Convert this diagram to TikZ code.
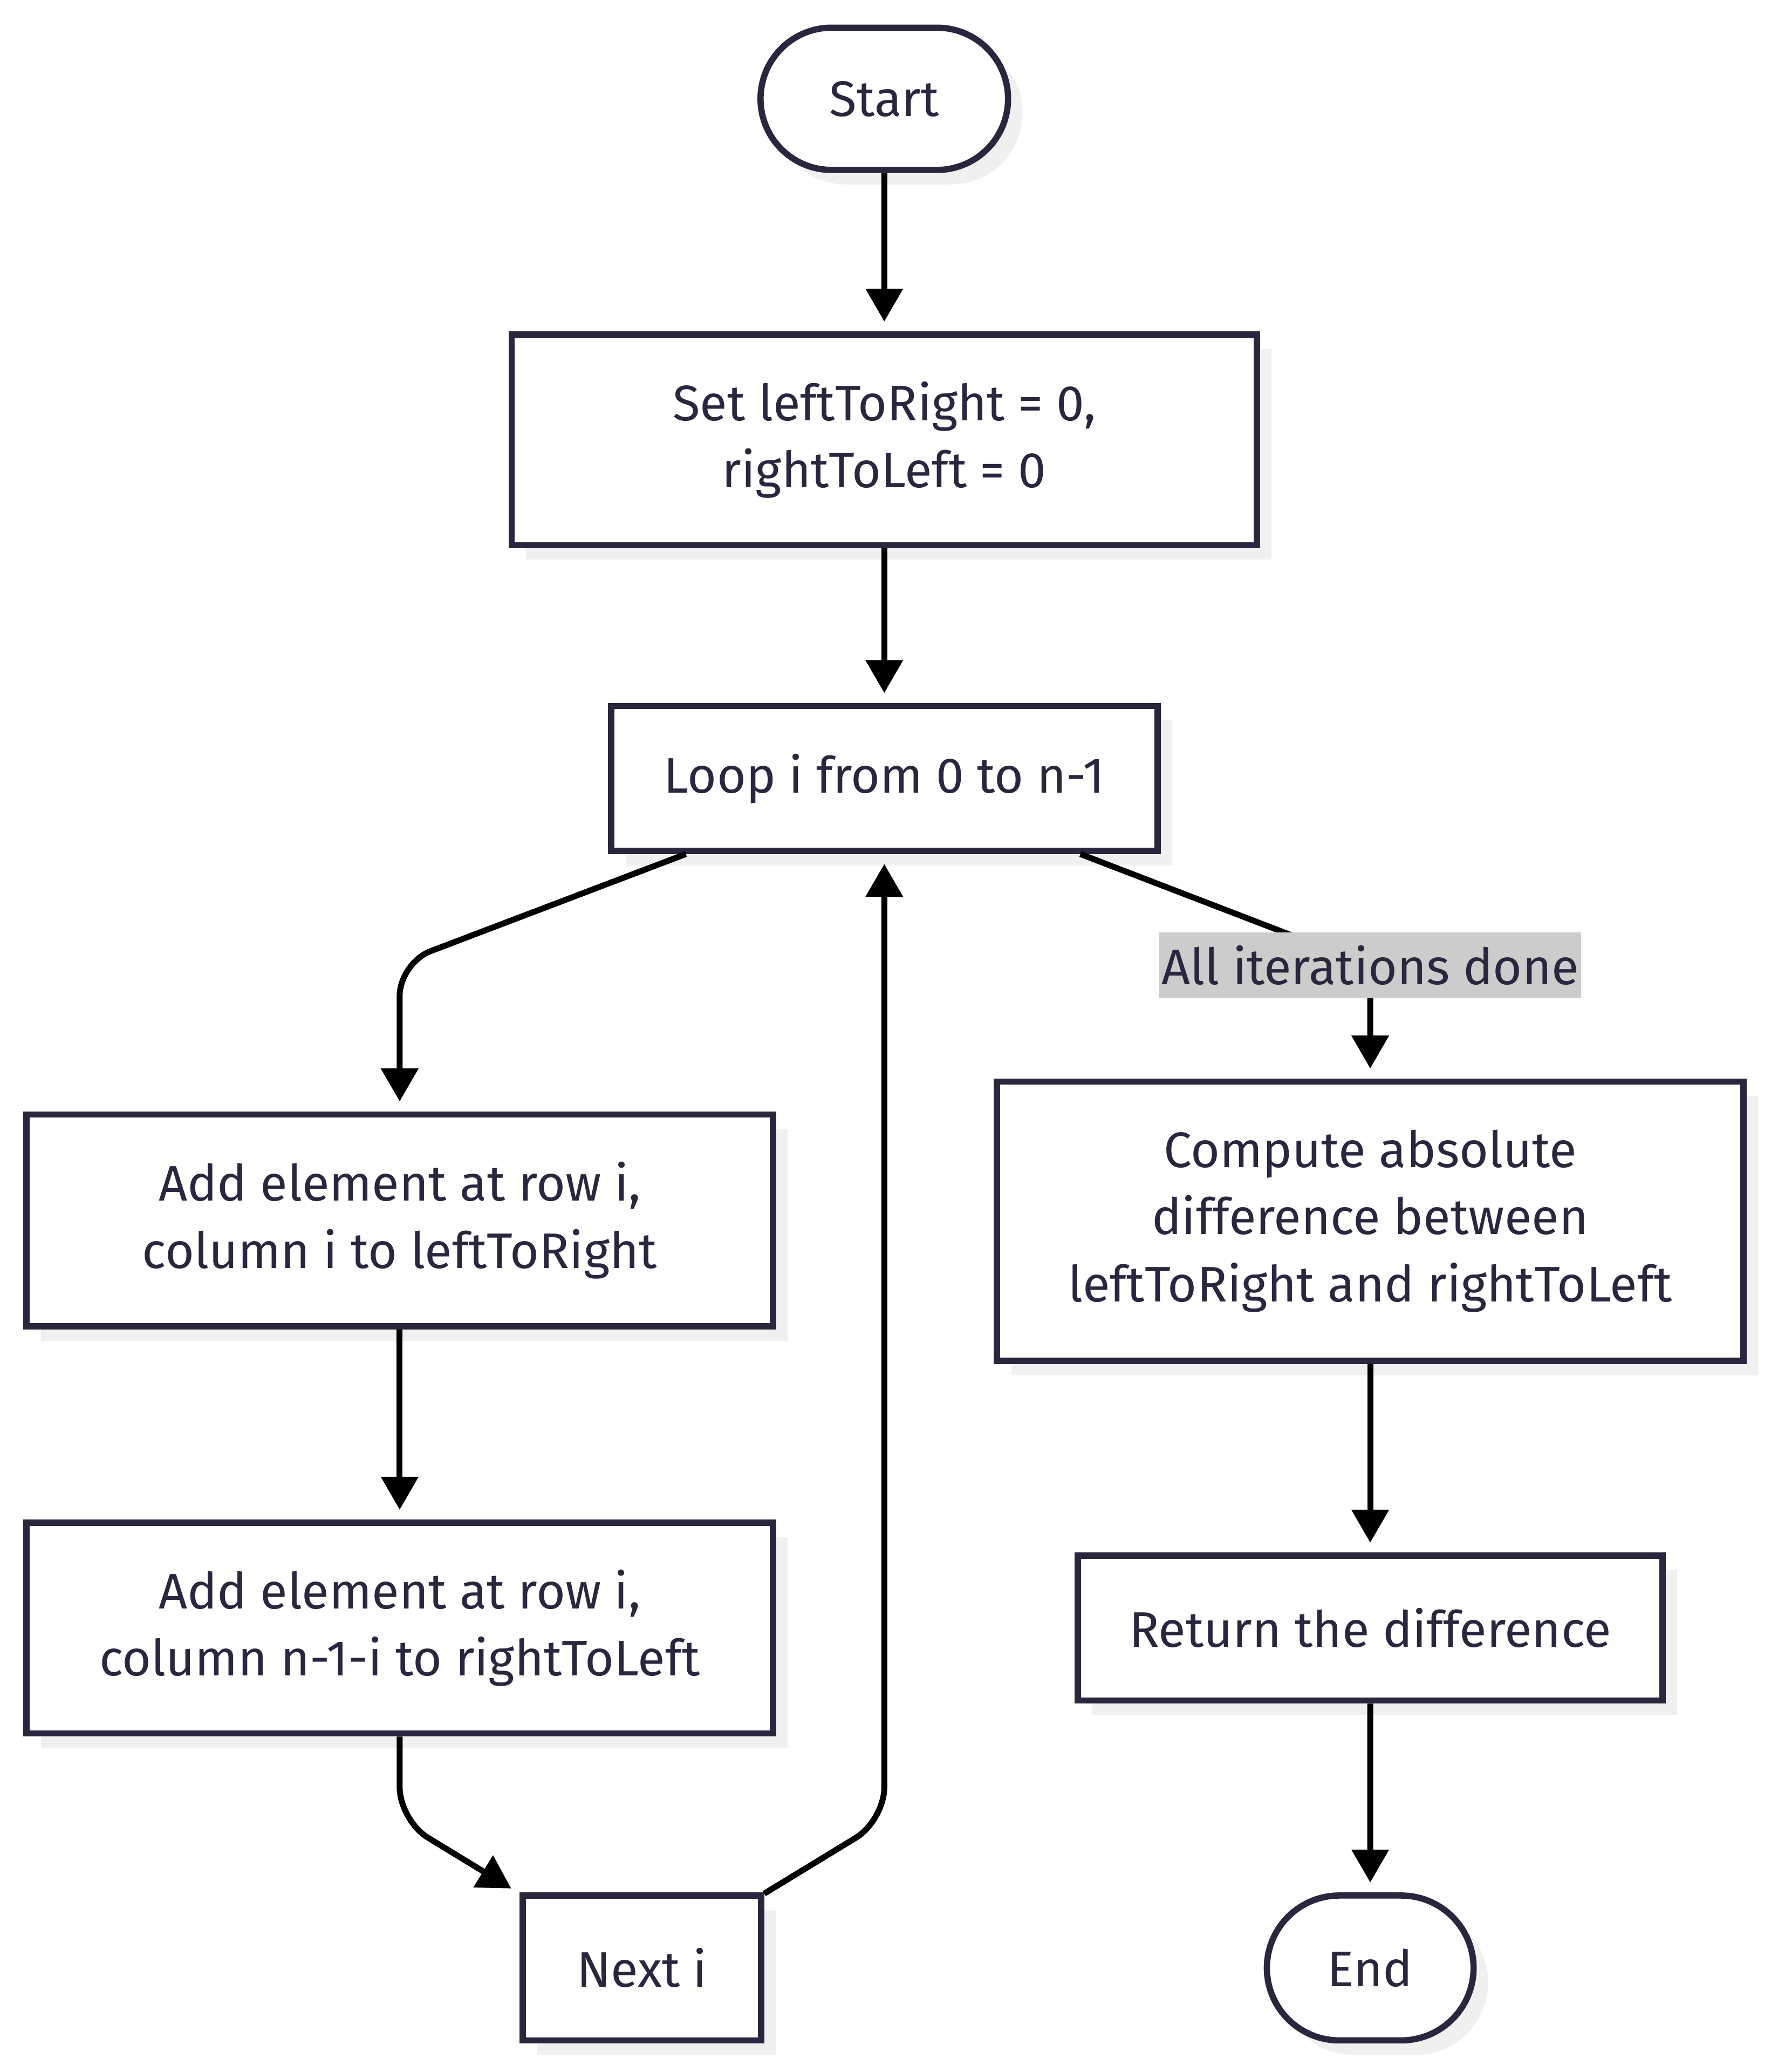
\documentclass[tikz,border=0pt]{standalone}
\usepackage{fontspec}
\setmainfont{Fira Sans}
\usetikzlibrary{arrows.meta,shapes.misc,shadows}
\definecolor{navy}{RGB}{40,39,62}
\definecolor{shade}{RGB}{240,240,240}
\definecolor{labelgray}{RGB}{204,204,204}

\begin{document}
\begin{tikzpicture}[x=0.02cm,y=-0.02cm,
    every node/.style={font=\fontsize{21.6}{29}\selectfont,text=navy},
    box/.style={rectangle,draw=navy,fill=white,line width=0.095cm,align=center,inner sep=0pt,
        drop shadow={shadow xshift=0.22cm,shadow yshift=-0.22cm,fill=shade,opacity=1}},
    term/.style={box,rounded rectangle},
    lbl/.style={fill=labelgray,inner xsep=1pt,inner ysep=0pt,minimum height=1cm},
    flow/.style={-{Triangle[length=0.5cm,width=0.55cm]},line width=0.09cm,black,
        rounded corners=0.5cm,shorten >=0.15cm}]

\useasboundingbox (0,0) rectangle (1350,1573);

% nodes
\node[term,minimum width=3.76cm,minimum height=2.16cm] (start) at (671.5,75) {Start};
\node[box,minimum width=11.32cm,minimum height=3.2cm] (init) at (671.5,334) {Set leftToRight = 0,\\rightToLeft = 0};
\node[box,minimum width=8.3cm,minimum height=2.2cm] (loop) at (671.5,591) {Loop i from 0 to n-1};
\node[box,minimum width=11.34cm,minimum height=3.22cm] (addL) at (303.5,926.5) {Add element at row i,\\column i to leftToRight};
\node[box,minimum width=11.34cm,minimum height=3.2cm] (addR) at (303.5,1236) {Add element at row i,\\column n-1-i to rightToLeft};
\node[box,minimum width=3.62cm,minimum height=2.2cm] (next) at (487.5,1494) {Next i};
\node[box,minimum width=11.34cm,minimum height=4.24cm] (diff) at (1040.5,927) {Compute absolute\\difference between\\leftToRight and rightToLeft};
\node[box,minimum width=8.88cm,minimum height=2.2cm] (ret) at (1040.5,1236) {Return the difference};
\node[term,minimum width=3.14cm,minimum height=2.2cm] (stop) at (1040.5,1494) {End};

% bends
\coordinate (bendL) at (303.5,731);
\coordinate (bendR) at (1040.5,733);
\coordinate (bendA) at (303.5,1382);
\coordinate (bendN) at (671.5,1382);

% connectors
\draw[flow] (start) -- (init);
\draw[flow] (init) -- (loop);
\draw[flow] (loop) -- (bendL) -- (addL);
\draw[flow] (loop) -- (bendR) -- (diff);
\draw[flow] (addL) -- (addR);
\draw[flow] (addR) -- (bendA) -- (next);
\draw[flow] (next) -- (bendN) -- (loop);
\draw[flow] (diff) -- (ret);
\draw[flow] (ret) -- (stop);

\node[lbl] (done) at (bendR) {All iterations done};

\end{tikzpicture}
\end{document}
